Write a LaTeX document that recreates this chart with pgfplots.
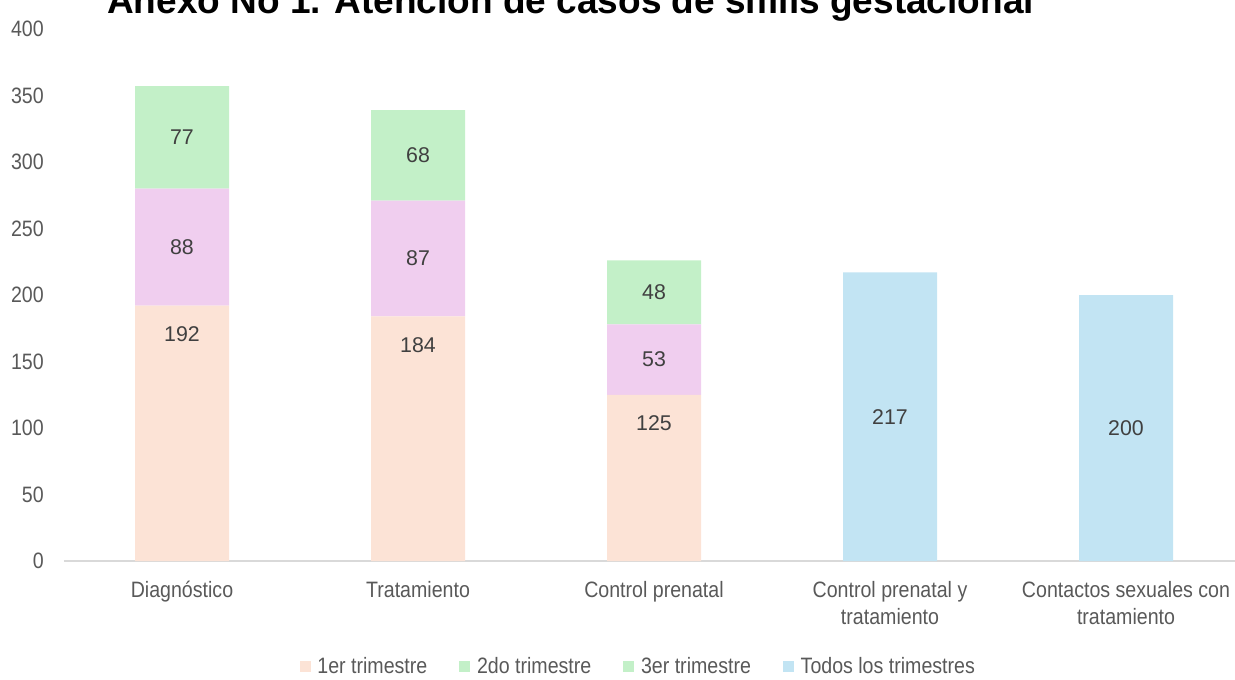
\documentclass[border=0pt]{standalone}
\usepackage{pgfplots}
\pgfplotsset{compat=1.18}
\usepackage{fontspec}
\setmainfont{Liberation Sans}
\newfontfamily\narrowfont[FakeStretch=0.88]{Liberation Sans}
\definecolor{peach}{HTML}{FCE3D6}
\definecolor{pinkb}{HTML}{F0CEEF}
\definecolor{greenb}{HTML}{C3F0C8}
\definecolor{blueb}{HTML}{C2E4F3}
\definecolor{ticktext}{HTML}{595959}
\definecolor{datatext}{HTML}{404040}
\definecolor{axisline}{HTML}{D9D9D9}
\begin{document}
\begin{tikzpicture}
\pgfplotsset{
  common/.style={
    at={(0,0)}, anchor=south west,
    x=177pt, y=0.9975pt,
    xmin=-0.5, xmax=4.5, ymin=0, ymax=400,
  }
}
\begin{axis}[common,
  ybar stacked, bar width=70.5pt,
  axis x line*=bottom, axis y line*=left,
  y axis line style={draw=none},
  x axis line style={draw=axisline, line width=1.5pt, -},
  xtick={0,1,2,3,4},
  xticklabels={Diagnóstico, Tratamiento, Control prenatal, {Control prenatal y\\tratamiento}, {Contactos sexuales con\\tratamiento}},
  xticklabel style={align=center, anchor=north, inner sep=0pt, yshift=-15.25pt,
    font=\narrowfont\fontsize{16.7}{20}\selectfont, text=ticktext},
  ytick={0,50,...,400},
  yticklabel style={anchor=east, inner sep=0pt, xshift=-15pt,
    font=\narrowfont\fontsize{16.7}{20}\selectfont, text=ticktext},
  /pgf/number format/assume math mode=true,
  major tick length=0pt,
  clip=false,
]
\addplot[fill=peach, draw=none] coordinates {(0,192) (1,184) (2,125)};
\addplot[fill=pinkb, draw=none] coordinates {(0,88) (1,87) (2,53)};
\addplot[fill=greenb, draw=none] coordinates {(0,77) (1,68) (2,48)};
\end{axis}
\begin{axis}[common, hide axis, clip=false,
  legend style={at={(0.487,-0.199)}, anchor=center, draw=none, fill=none,
    legend columns=-1, font=\narrowfont\fontsize{16.7}{20}\selectfont, text=ticktext,
    /tikz/every odd column/.append style={column sep=3pt},
    /tikz/every even column/.append style={column sep=22pt},
    inner sep=0pt},
  legend image code/.code={\fill[#1, draw=none] (0pt,-4.1pt) rectangle (8.25pt,4.1pt);},
]
\addplot[ybar, bar width=70.5pt, fill=blueb, draw=none, forget plot] coordinates {(3,217) (4,200)};
\addplot[only marks, mark=none, forget plot, nodes near coords, point meta=explicit symbolic,
  every node near coord/.style={anchor=center, inner sep=0pt, text=datatext, font=\fontsize{16}{19}\selectfont}]
  table[meta=label] {
x y label
0 170.5 192
0 236 88
0 318.5 77
1 162 184
1 227.5 87
1 305 68
2 104 125
2 151.5 53
2 202 48
3 108.5 217
4 100 200
};
\addlegendimage{fill=peach, draw=none}
\addlegendimage{fill=greenb, draw=none}
\addlegendimage{fill=greenb, draw=none}
\addlegendimage{fill=blueb, draw=none}
\legend{1er trimestre, 2do trimestre, 3er trimestre, Todos los trimestres}
\end{axis}
\node[anchor=base west, inner sep=0pt, font=\bfseries\fontsize{27.75}{32}\selectfont] at (32.25pt,410.25pt) {Anexo No 1. Atención de casos de sífilis gestacional};
\pgfresetboundingbox
\path[use as bounding box] (-48pt,-88.5pt) rectangle (878.25pt,420.75pt);
\end{tikzpicture}
\end{document}
